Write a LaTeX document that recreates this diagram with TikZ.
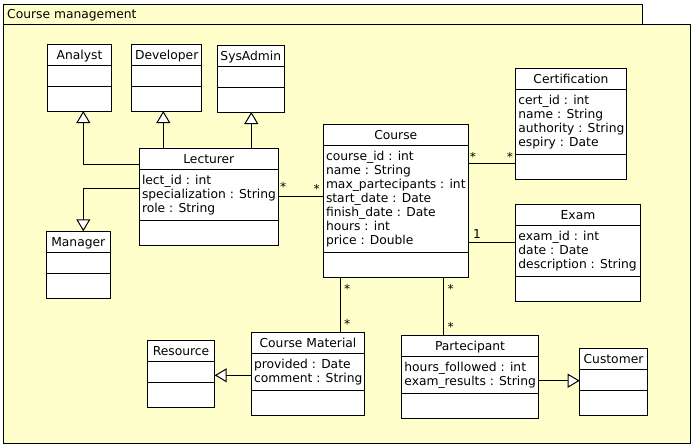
\documentclass[tikz,border=0pt]{standalone}
\usepackage{fontspec}
\setmainfont{DejaVu Sans}
\usetikzlibrary{arrows.meta}
\definecolor{pkg}{RGB}{255,255,204}
\tikzset{
  lw/.style={line width=1pt},
  pkgbox/.style={draw=black, fill=pkg, lw},
  classbox/.style={draw=black, fill=white, lw, inner sep=0pt, outer sep=0pt},
  txt/.style={inner sep=0pt, font=\fontsize{12.3}{14}\selectfont},
  ctitle/.style={txt, anchor=base},
  attr/.style={txt, anchor=base west},
  mult/.style={txt, anchor=base},
  assoc/.style={lw},
  gen/.style={lw, -{Triangle[fill=white, length=12pt, width=14pt]}},
}
\newcommand\umlclass[8]{%
  \node[classbox, anchor=north west, minimum width=#4pt-#2pt, minimum height=#5pt-#3pt] (#1) at (#2,#3) {};
  \draw[lw] (#2,#6) -- (#4,#6);
  \draw[lw] (#2,#7) -- (#4,#7);
  \node[ctitle] (#1-t) at ({(#2+#4)/2},{(#3+#6)/2+4.3}) {#8};
}
\newcommand\umlattrs[4]{%
  \foreach \tx [count=\i from 0] in {#4}
    \node[attr] (#1-a\i) at (#2+2.5,#3+14.7+14*\i) {\tx};
}
\begin{document}
\begin{tikzpicture}[x=1pt,y=-1pt]
\useasboundingbox (0,0) rectangle (694,447);
% package
\node[pkgbox, anchor=north west, minimum width=639.2pt, minimum height=20pt, inner sep=0pt] (tab) at (2.5,4.3) {};
\node[pkgbox, anchor=north west, minimum width=687.8pt, minimum height=419pt, inner sep=0pt] (pkgmain) at (2.5,24.3) {};
\node[txt, anchor=base west] (pkgname) at (7,18.2) {Course management};
% classes
\umlclass{analyst}{47.3}{44.3}{111.7}{111}{65.3}{86.3}{Analyst}
\umlclass{dev}{131.7}{44.3}{201.7}{111}{65.3}{86.3}{Developer}
\umlclass{sys}{217.3}{45.3}{284.3}{112}{66.3}{87}{SysAdmin}
\umlclass{lect}{139.3}{148.3}{278.3}{245.3}{169.3}{220.3}{Lecturer}
\umlattrs{lect}{139.3}{169.3}{lect\_id : int,specialization : String,role : String}
\umlclass{manager}{46.3}{231.3}{110.3}{298}{252.3}{273.3}{Manager}
\umlclass{course}{323.3}{124.3}{468.3}{277.3}{145.3}{252.3}{Course}
\umlattrs{course}{323.3}{145.3}{course\_id : int,name : String,max\_partecipants : int,start\_date : Date,finish\_date : Date,hours : int,price : Double}
\umlclass{cert}{515.7}{68.3}{626.3}{179}{89.3}{154.3}{Certification}
\umlattrs{cert}{515.7}{89.3}{cert\_id : int,name : String,authority : String,espiry : Date}
\umlclass{exam}{515.7}{204.7}{640.3}{301}{225.3}{276.3}{Exam}
\umlattrs{exam}{515.7}{225.3}{exam\_id : int,date : Date,description : String}
\umlclass{cm}{251.3}{332.3}{364.7}{415.3}{353.3}{390.3}{Course Material}
\umlattrs{cm}{251.3}{353.3}{provided : Date,comment : String}
\umlclass{res}{147.3}{340.3}{214.7}{407}{361.3}{382.3}{Resource}
\umlclass{part}{401.7}{335.3}{538.3}{418.3}{356.7}{393.3}{Partecipant}
\umlattrs{part}{401.7}{356.7}{hours\_followed : int,exam\_results : String}
\umlclass{cust}{579.7}{348.3}{647.3}{415.3}{369.7}{390.7}{Customer}
% generalizations
\draw[gen] (lect.west |- 0,164) -| (analyst.south -| 83.3,0);
\draw[gen] (lect.north -| 163.3,0) -- (dev.south -| 163.3,0);
\draw[gen] (lect.north -| 251.3,0) -- (sys.south -| 251.3,0);
\draw[gen] (lect.west |- 0,188.3) -| (manager.north -| 83.3,0);
\draw[gen] (cm.west |- 0,375.3) -- (res.east |- 0,375.3);
\draw[gen] (part.east |- 0,380.7) -- (cust.west |- 0,380.7);
% associations
\draw[assoc] (lect.east |- 0,196) -- (course.west |- 0,196);
\draw[assoc] (course.east |- 0,163.3) -- (cert.west |- 0,163.3);
\draw[assoc] (course.east |- 0,242.3) -- (exam.west |- 0,242.3);
\draw[assoc] (course.south -| 340.7,0) -- (cm.north -| 340.7,0);
\draw[assoc] (course.south -| 443.3,0) -- (part.north -| 443.3,0);
% multiplicities
\node[mult] (m1) at (283.3,191) {*};
\node[mult] (m2) at (316.7,193) {*};
\node[mult] (m3) at (473,161) {*};
\node[mult] (m4) at (510,161) {*};
\node[mult] (m5) at (477,238) {1};
\node[mult] (m6) at (347.3,293) {*};
\node[mult] (m7) at (347.3,328) {*};
\node[mult] (m8) at (450.7,293) {*};
\node[mult] (m9) at (450.7,331) {*};
\end{tikzpicture}
\end{document}
